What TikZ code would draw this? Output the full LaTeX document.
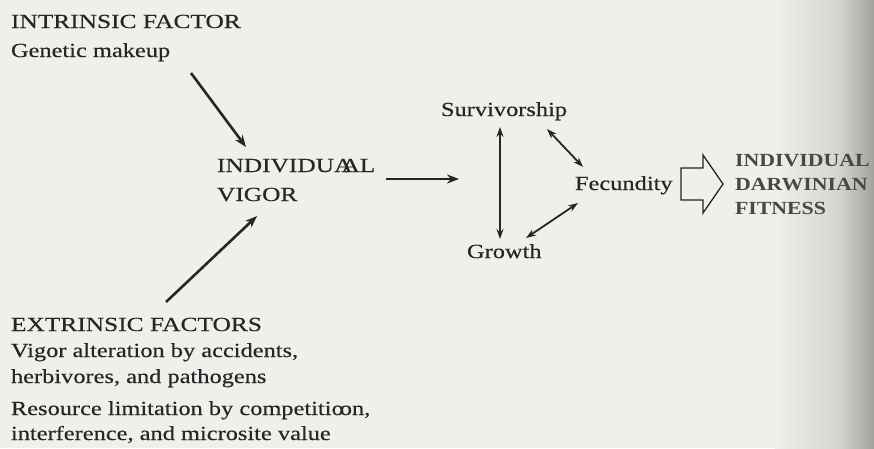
\documentclass[tikz,border=0pt]{standalone}
\usepackage{fontspec}
\setmainfont{Liberation Serif}
\newfontfamily\capsfont{Liberation Serif}[FakeStretch=1.27,FakeBold=0.4]
\newfontfamily\lcfont{Liberation Serif}[FakeStretch=1.22,FakeBold=0.4]
\newfontfamily\fitfont{Liberation Serif Bold}[FakeStretch=1.18]
\usetikzlibrary{arrows.meta}
\definecolor{paper}{HTML}{EFEFEB}
\definecolor{ink}{HTML}{262626}
\definecolor{midshade}{HTML}{D6D6D1}
\definecolor{shade}{HTML}{A3A39D}
\tikzset{
  base/.style={anchor=base west, inner sep=0pt, outer sep=0pt, text=ink},
  captxt/.style={base, font=\capsfont\fontsize{20}{24}\selectfont},
  txt/.style={base, font=\lcfont\fontsize{20}{24}\selectfont},
  fit/.style={base, text=ink!85, font=\fitfont\fontsize{18.5}{22}\selectfont},
  bigarrow/.style={draw=ink, line width=2.6pt, -{Stealth[length=12pt,width=9pt]}},
  duo/.style={draw=ink, line width=1.8pt, {Stealth[length=10pt,width=7pt]}-{Stealth[length=10pt,width=7pt]}},
  hollow/.style={draw=ink, line width=1.3pt, fill=paper, line join=miter}
}
\begin{document}
\begin{tikzpicture}[x=1pt,y=-1pt]
\useasboundingbox (0,0) rectangle (874,448);
\fill[paper] (0,0) rectangle (874,448);
\shade[left color=paper, right color=midshade] (775,0) rectangle (838,448);
\shade[left color=midshade, right color=shade] (838,0) rectangle (874,448);
% left texts
\node[captxt] (intr) at (11,28) {INTRINSIC FACTOR};
\node[txt] (gen) at (11,57) {Genetic makeup};
\node[captxt] (ind) at (217,172) {INDIVIDUA\kern-11pt AL};
\node[captxt] (vig) at (217,201) {VIGOR};
\node[captxt] (ext) at (11,331) {EXTRINSIC FACTORS};
\node[txt] (ext1) at (11,357) {Vigor alteration by accidents,};
\node[txt] (ext2) at (11,383) {herbivores, and pathogens};
\node[txt] (ext3) at (11,415) {Resource limitation by competitio\kern-4pt on,};
\node[txt] (ext4) at (11,440) {interference, and microsite value};
% middle
\node[txt] (surv) at (441,116) {Survivorship};
\node[txt] (fec) at (575,190) {Fecundity};
\node[txt] (gro) at (467,258) {Growth};
% right
\node[fit] (fit1) at (735,166) {INDIVIDUAL};
\node[fit] (fit2) at (735,190) {DARWINIAN};
\node[fit] (fit3) at (735,214) {FITNESS};
% arrow ends
\coordinate (a1s) at (191,73);
\coordinate (a1e) at (246,147);
\coordinate (a2s) at (166,302);
\coordinate (a2e) at (257,216);
\coordinate (a3s) at (386,179);
\coordinate (a3e) at (459,179);
\coordinate (sv) at (500,127);
\coordinate (gv) at (500,239);
\coordinate (sf1) at (547,129);
\coordinate (sf2) at (583,167);
\coordinate (gf1) at (578,203);
\coordinate (gf2) at (526,238);
\draw[bigarrow] (a1s) -- (a1e);
\draw[bigarrow] (a2s) -- (a2e);
\draw[bigarrow] (a3s) -- (a3e);
\draw[duo] (sv) -- (gv);
\draw[duo] (sf1) -- (sf2);
\draw[duo] (gf1) -- (gf2);
% hollow arrow
\draw[hollow] (681,168) -- (703,168) -- (703,155) -- (723,184) -- (703,213) -- (703,200) -- (681,200) -- cycle;
\end{tikzpicture}
\end{document}
